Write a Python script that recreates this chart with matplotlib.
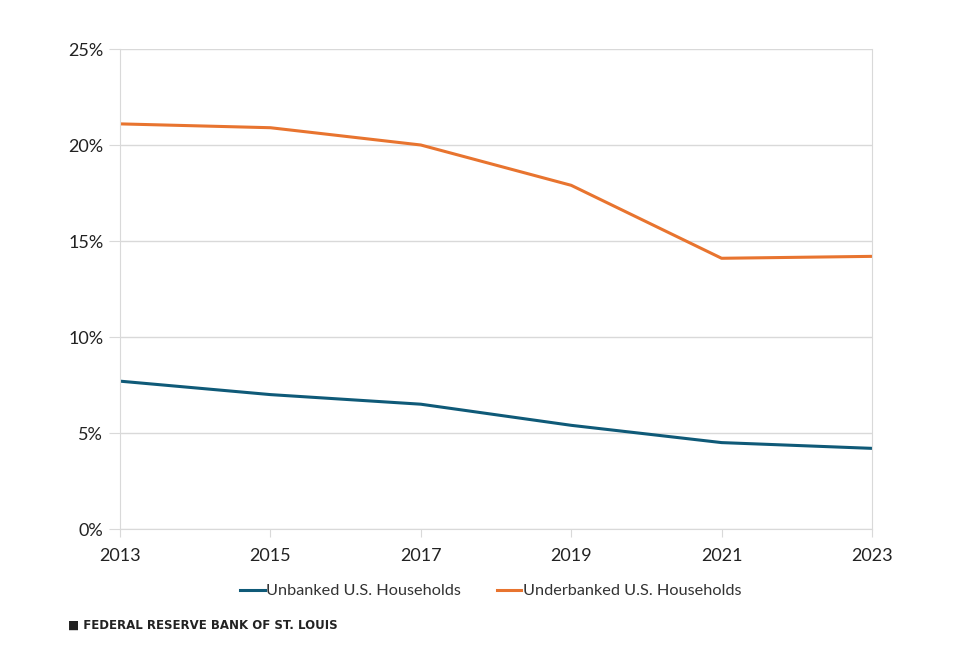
import matplotlib
matplotlib.use('Agg')
import matplotlib.pyplot as plt
from matplotlib.ticker import FuncFormatter

# data
years = [2013, 2015, 2017, 2019, 2021, 2023]
unbanked = [7.7, 7.0, 6.5, 5.4, 4.5, 4.2]
underbanked = [21.1, 20.9, 20.0, 17.9, 14.1, 14.2]
yticks = [0, 5, 10, 15, 20, 25]

plt.rcParams['font.family'] = ['Lato', 'DejaVu Sans']

fig = plt.figure(figsize=(9.8, 6.57), dpi=100)
ax = fig.add_axes([120/980, 1-529/657, (872-120)/980, (529-49)/657])

ax.plot(years, unbanked, color='#0f5a78', lw=2.2, label='Unbanked U.S. Households')
ax.plot(years, underbanked, color='#e8742f', lw=2.2, label='Underbanked U.S. Households')

ax.set_xlim(2013, 2023)
ax.set_ylim(0, 25)
ax.set_xticks(years)
ax.set_yticks(yticks)
ax.yaxis.set_major_formatter(FuncFormatter(lambda v, p: f'{v:.0f}%'))
ax.grid(axis='y', color='#d9d9d9', lw=1)
ax.set_axisbelow(True)
ax.spines['top'].set_visible(False)
for s in ['left', 'right', 'bottom']:
    ax.spines[s].set_color('#d9d9d9')
ax.tick_params(axis='y', length=8, color='#d9d9d9', labelsize=13, pad=4, labelcolor='#222222')
ax.tick_params(axis='x', length=6, color='#d9d9d9', labelsize=13, pad=8, labelcolor='#222222')

leg = fig.legend(loc='center', bbox_to_anchor=(491/980, 1-591/657), ncol=2, frameon=False,
                 fontsize=11.7, handlelength=1.5, handletextpad=0.1, columnspacing=2.2)
for t in leg.get_texts():
    t.set_color('#333333')

fig.text(68/980, 1-625/657, '\u25a0 FEDERAL RESERVE BANK OF ST. LOUIS', fontsize=8.5,
         family='DejaVu Sans', fontweight='bold', va='center', ha='left', color='#222222')

fig.savefig('out.png', dpi=100)
